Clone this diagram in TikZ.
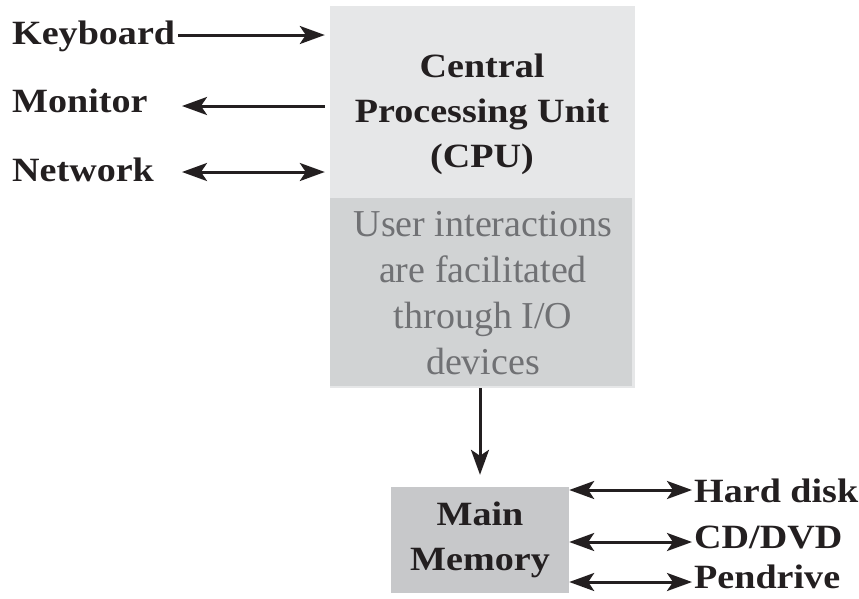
\documentclass[tikz,border=0pt]{standalone}
\usepackage{fontspec}
\setmainfont{Liberation Serif}
\newfontfamily\bfam{Liberation Serif}[FakeStretch=1.12]
\newfontfamily\rfam{Liberation Serif}
\usetikzlibrary{arrows.meta}
\definecolor{cpulight}{HTML}{E6E7E8}
\definecolor{iogray}{HTML}{D1D3D4}
\definecolor{memgray}{HTML}{C7C8CA}
\definecolor{ink}{HTML}{231F20}
\definecolor{softtext}{HTML}{707174}
\begin{document}
\begin{tikzpicture}[x=1pt,y=-1pt,
  lbl/.style={inner sep=0pt, text=ink, font=\bfam\bfseries\fontsize{34}{45}\selectfont},
  boxtext/.style={inner sep=0pt, text=ink, align=center, font=\bfam\bfseries\fontsize{34}{45}\selectfont},
  iotext/.style={inner sep=0pt, text=softtext, align=center, font=\rfam\fontsize{38}{46}\selectfont},
  arr/.style={line width=3pt, draw=ink, -{Stealth[length=25pt,width=18pt,inset=6pt]}},
  darr/.style={line width=3pt, draw=ink, {Stealth[length=25pt,width=18pt,inset=6pt]}-{Stealth[length=25pt,width=18pt,inset=6pt]}}]
\path[use as bounding box] (0,0) rectangle (859,598);

% CPU block
\node[draw=none, fill=cpulight, minimum width=305pt, minimum height=382pt, inner sep=0pt] (cpu) at (482.5,197) {};
\node[draw=none, fill=iogray, minimum width=302pt, minimum height=188pt, inner sep=0pt] (io) at (481,292) {};
\node[boxtext] (cputxt) at (482,114) {Central\\Processing Unit\\(CPU)};
\node[iotext] (iotxt) at (483,293) {User interactions\\are facilitated\\through I/O\\devices};

% Main memory
\node[fill=memgray, minimum width=178pt, minimum height=106pt, inner sep=0pt, boxtext] (mem) at (480,540) {Main\\Memory};

% Left labels
\node[lbl, anchor=base west] (kb) at (12,44) {Keyboard};
\node[lbl, anchor=base west] (mon) at (12,112) {Monitor};
\node[lbl, anchor=base west] (net) at (12,181) {Network};
\coordinate (kbS) at (178,35);
\coordinate (monT) at (182,106);
\coordinate (netT) at (182,172);

\draw[arr, shorten >=5pt] (kbS) -- (kbS -| cpu.west);
\draw[arr, shorten <=5pt] (monT -| cpu.west) -- (monT);
\draw[darr, shorten >=5pt] (netT) -- (netT -| cpu.west);

% CPU to memory
\draw[arr, shorten >=12pt] (cpu.south -| mem.north) -- (mem.north);

% Right labels
\node[lbl, anchor=base west] (hd) at (694,502) {Hard disk};
\node[lbl, anchor=base west] (cd) at (694,548) {CD/DVD};
\node[lbl, anchor=base west] (pd) at (694,588) {Pendrive};
\coordinate (hdA) at (692,490);
\coordinate (cdA) at (692,542);
\coordinate (pdA) at (692,582);

\draw[darr] (hdA -| mem.east) -- (hdA);
\draw[darr] (cdA -| mem.east) -- (cdA);
\draw[darr] (pdA -| mem.east) -- (pdA);
\end{tikzpicture}
\end{document}
